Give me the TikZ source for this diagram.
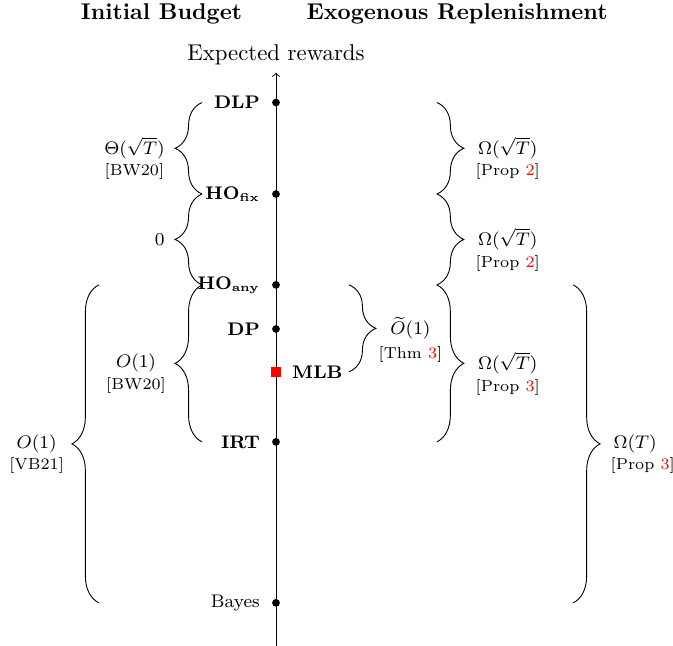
\documentclass[tikz,border=0pt]{standalone}
\usepackage{amsmath,amssymb}
\usepackage{tikz}
\usetikzlibrary{calc,positioning,arrows,decorations.pathreplacing}
\tikzset{
		dot/.style    = {circle, fill=black, inner sep=0pt, minimum size=3.4pt},
		redsq/.style  = {rectangle, fill=red, inner sep=0pt, minimum size=4.4pt},
		algo/.style   = {font=\footnotesize\bfseries, inner sep=2pt},
		title/.style  = {font=\bfseries},
		bound/.style  = {font=\footnotesize, align=center, inner sep=2pt},
		brace/.style  = {decorate, decoration={brace, amplitude=11.8pt}}
	}
\newcommand{\citetag}[1]{{\scriptsize[#1]}}
\newcommand{\reftag}[2]{{\scriptsize[#1 \textcolor{red}{#2}]}}
\newcommand{\subbf}[1]{$_{\scriptscriptstyle\mathbf{#1}}$}

\begin{document}
\begin{tikzpicture}[>=to]
		\useasboundingbox (-4.253,-0.663) rectangle (6.118,9.29);
		% titles of the two settings
		\node[title] (tbudget) at (-1.765,9.07) {Initial Budget};
		\node[title] (trepl) at (2.79,9.07) {Exogenous Replenishment};
		% the axis of expected rewards
		\coordinate (bot) at (0,-0.663);
		\coordinate (top) at (0,8.17);
		\draw[->] (bot) -- (top) node[above] (ylab) {Expected rewards};
		% policies on the axis
		\node[dot] (bayes) at (0,0) {};
		\node[dot] (irt) at (0,2.48) {};
		\node[redsq] (mlb) at (0,3.56) {};
		\node[dot] (dp) at (0,4.22) {};
		\node[dot] (hoany) at (0,4.90) {};
		\node[dot] (hofix) at (0,6.30) {};
		\node[dot] (dlp) at (0,7.71) {};
		\node[algo, font=\footnotesize, left=3pt of bayes] (lbayes) {Bayes};
		\node[algo, left=3pt of irt] (lirt) {IRT};
		\node[algo, right=2.5pt of mlb] (lmlb) {MLB};
		\node[algo, left=3pt of dp] (ldp) {DP};
		\node[algo, left=3pt of hoany] (lhoany) {HO\subbf{any}};
		\node[algo, left=3pt of hofix] (lhofix) {HO\subbf{fix}};
		\node[algo, left=3pt of dlp] (ldlp) {DLP};
		% columns of the braces
		\coordinate (c1) at (-1.14,0);
		\coordinate (c2) at (-2.73,0);
		\coordinate (c3) at (1.125,0);
		\coordinate (c4) at (2.48,0);
		\coordinate (c5) at (4.58,0);
		% initial budget
		\draw[brace] (c1 |- hofix) -- (c1 |- dlp)
			node[bound, midway, left=0.5cm, yshift=-4.5pt] (b1) {$\Theta(\sqrt{T})$\\ \citetag{BW20}};
		\draw[brace] (c1 |- hoany) -- (c1 |- hofix)
			node[bound, midway, left=0.5cm] (b2) {$0$};
		\draw[brace] (c1 |- irt) -- (c1 |- hoany)
			node[bound, midway, left=0.48cm, yshift=-4.5pt] (b3) {$O(1)$\\ \citetag{BW20}};
		\draw[brace] (c2 |- bayes) -- (c2 |- hoany)
			node[bound, midway, left=0.46cm, yshift=-4.5pt] (b4) {$O(1)$\\ \citetag{VB21}};
		% exogenous replenishment
		\draw[brace] (c3 |- hoany) -- (c3 |- mlb)
			node[bound, midway, right=0.38cm, yshift=-5pt] (r1) {$\widetilde{O}(1)$\\[1pt] \reftag{Thm}{3}};
		\draw[brace] (c4 |- dlp) -- (c4 |- hofix)
			node[bound, midway, right=0.52cm, yshift=-4.5pt] (r2) {$\Omega(\sqrt{T})$\\ \reftag{Prop}{2}};
		\draw[brace] (c4 |- hofix) -- (c4 |- hoany)
			node[bound, midway, right=0.52cm, yshift=-4.5pt] (r3) {$\Omega(\sqrt{T})$\\ \reftag{Prop}{2}};
		\draw[brace] (c4 |- hoany) -- (c4 |- irt)
			node[bound, midway, right=0.52cm, yshift=-4.5pt] (r4) {$\Omega(\sqrt{T})$\\ \reftag{Prop}{3}};
		\draw[brace] (c5 |- hoany) -- (c5 |- bayes)
			node[bound, align=left, midway, right=0.5cm, yshift=-4.5pt] (r5) {\,$\Omega(T)$\\ \reftag{Prop}{3}};
	\end{tikzpicture}
\end{document}
